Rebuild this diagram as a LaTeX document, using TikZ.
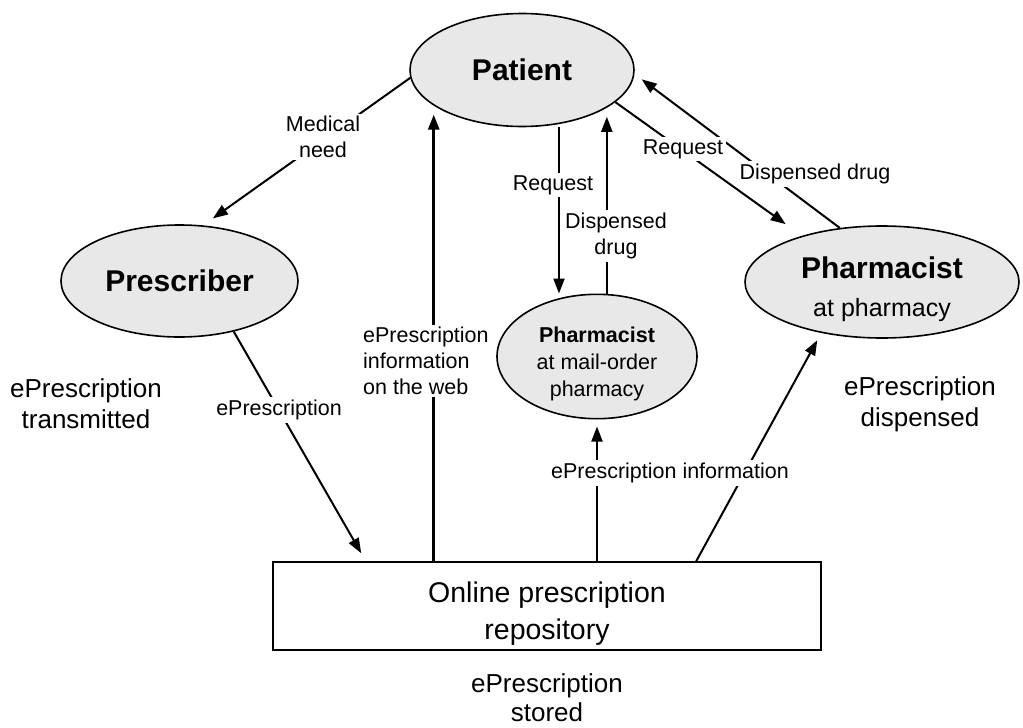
\documentclass[tikz,border=0pt]{standalone}
\usepackage{fontspec}
\setmainfont{Liberation Sans}
\usetikzlibrary{shapes.geometric,arrows.meta}
\definecolor{ellgray}{HTML}{E8E8E8}
\begin{document}
\begin{tikzpicture}[x=1pt,y=-1pt,
  ell/.style={ellipse, draw, line width=1.6pt, fill=ellgray, inner sep=0pt, align=center},
  box/.style={rectangle, draw, line width=1.6pt, inner sep=0pt, align=center},
  lab/.style={fill=white, inner sep=2.5pt, align=center, font=\fontsize{21.5}{26}\selectfont},
  captext/.style={align=center, inner sep=0pt, font=\fontsize{26}{31}\selectfont},
  arr/.style={line width=2pt, -{Triangle[length=15pt,width=11pt]}}]
\useasboundingbox (0,0) rectangle (1023,728);

% nodes
\node[ell, minimum width=224pt, minimum height=113pt] (patient) at (522,70)
  {\fontsize{30}{36}\selectfont\bfseries Patient};
\node[ell, minimum width=237pt, minimum height=112pt] (prescriber) at (179.5,281)
  {\fontsize{30}{36}\selectfont\bfseries Prescriber};
\node[ell, minimum width=274pt, minimum height=112pt, font=\fontsize{25}{30}\selectfont] (pharm) at (882,282)
  {\rule{0pt}{36pt}{\fontsize{30}{36}\selectfont\bfseries Pharmacist}\\[8pt]at pharmacy};
\node[ell, minimum width=200pt, minimum height=113pt, font=\fontsize{21.5}{27}\selectfont] (mo) at (597,356.5)
  {\rule{0pt}{29.5pt}\textbf{Pharmacist}\\at mail-order\\pharmacy};
\node[box, minimum width=548pt, minimum height=88pt, font=\fontsize{28.5}{37}\selectfont] (repo) at (547,606)
  {\rule{0pt}{35pt}Online prescription\\repository};

% captions
\node[captext] (captrans) at (86,404) {ePrescription\\transmitted};
\node[captext] (capdisp) at (920,404) {ePrescription\\dispensed};
\node[captext, font=\fontsize{26}{29}\selectfont] (capstor) at (547,698) {ePrescription\\stored};

% x positions for vertical connectors
\coordinate (xreq) at (559,0);
\coordinate (xmo) at (597,0);

% connectors
\draw[arr, shorten >=12pt] (patient.184) -- (prescriber.67.5);
\draw[arr, line width=2.6pt, shorten >=9pt] (repo.north -| patient.202.7) -- (patient.202.7);
\draw[arr] (patient.south -| xreq) -- (mo.north -| xreq);
\draw[arr, shorten >=9pt] (mo.north -| patient.336.6) -- (patient.336.6);
\draw[arr, shorten >=20pt] (patient.341.6) -- (pharm.150.9);
\draw[arr, shorten >=9pt] (pharm.128.2) -- (patient.358.7);
\draw[arr, shorten >=9.2pt] (prescriber.317.4) -- ([xshift=93.6pt]repo.north west);
\draw[arr, shorten >=7pt] (repo.north -| xmo) -- (mo.south);
\draw[arr, shorten >=8.3pt] ([xshift=424pt]repo.north west) -- (pharm.220.4);

% labels
\node[lab] (lmed) at (323,137) {Medical\\need};
\node[lab] (lreq1) at (553,185) {Request};
\node[lab] (ldd1) at (616,236) {Dispensed\\drug};
\node[lab] (lreq2) at (683,149) {Request};
\node[lab] (ldd2) at (815,174) {Dispensed drug};
\node[lab, align=left, anchor=west] (lweb) at (360.5,361) {ePrescription\\information\\on the web};
\node[lab] (lep) at (279,410) {ePrescription};
\node[lab] (lepi) at (670,473) {ePrescription information};
\end{tikzpicture}
\end{document}
